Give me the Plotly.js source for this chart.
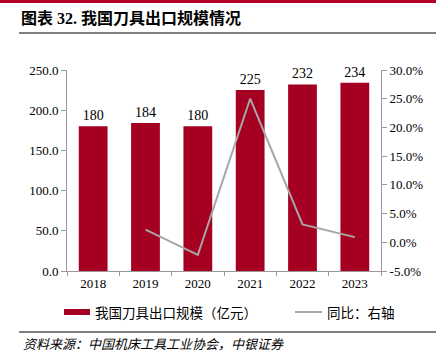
<!DOCTYPE html>
<html>
<head>
<meta charset="utf-8">
<script src="https://cdn.plot.ly/plotly-3.0.1.min.js"></script>
<style>html,body{margin:0;padding:0;background:#fff;}#chart{width:436px;height:358px;}</style>
</head>
<body>
<div id="chart"></div>
<script>
const years = ['2018', '2019', '2020', '2021', '2022', '2023'];
const exportScale = [180, 184, 180, 225, 232, 234];
const yoyYears = ['2019', '2020', '2021', '2022', '2023'];
const yoyPct = [2.2, -2.2, 25.0, 3.1, 0.9];
const leftTicks = [0, 50, 100, 150, 200, 250];
const rightTicks = [-5, 0, 5, 10, 15, 20, 25, 30];

const W = 436, H = 358, L = 67, R = 55, T = 70, B = 87;
const pw = W - L - R, ph = H - T - B;
const px = x => (x - L) / pw;
const py = y => (H - B - y) / ph;

const serif = '"Liberation Serif", "Times New Roman", serif';
const cjk = '"Noto Sans CJK SC", sans-serif';
const mixed = '"Liberation Serif", "Noto Sans CJK SC", serif';

const traces = [
  {
    type: 'bar', x: years, y: exportScale, name: '我国刀具出口规模（亿元）',
    marker: {color: '#A50021'}, width: 0.55,
    text: exportScale.map(String), textposition: 'outside', cliponaxis: false,
    textfont: {family: serif, size: 14, color: '#000'},
    hoverinfo: 'skip', showlegend: false
  },
  {
    type: 'scatter', mode: 'lines', x: yoyYears, y: yoyPct, yaxis: 'y2', name: '同比：右轴',
    line: {color: '#A6A6A6', width: 2}, showlegend: false, hoverinfo: 'skip'
  }
];

const layout = {
  width: W, height: H, margin: {l: L, r: R, t: T, b: B},
  paper_bgcolor: '#fff', plot_bgcolor: '#fff',
  bargap: 0.45,
  title: {
    text: '<b>图表 32. 我国刀具出口规模情况</b>',
    font: {family: mixed, size: 16, color: '#000'},
    xref: 'container', yref: 'container', x: 21 / W, xanchor: 'left',
    y: 1 - 18 / H, yanchor: 'middle'
  },
  xaxis: {
    type: 'category', tickson: 'boundaries', ticks: 'outside', ticklen: 4,
    tickcolor: '#999', showline: true, linecolor: '#999', linewidth: 1,
    tickfont: {family: serif, size: 13, color: '#000'}, showgrid: false, zeroline: false,
    fixedrange: true
  },
  yaxis: {
    range: [0, 250], tickvals: leftTicks, ticktext: leftTicks.map(v => v.toFixed(1)),
    ticks: 'outside', ticklen: 5, tickcolor: '#999', showline: true, linecolor: '#999',
    tickfont: {family: serif, size: 13, color: '#000'}, showgrid: false, zeroline: false
  },
  yaxis2: {
    overlaying: 'y', side: 'right', range: [-5, 30], tickvals: rightTicks,
    ticktext: rightTicks.map(v => v.toFixed(1) + '%'),
    ticks: 'outside', ticklen: 5, tickcolor: '#999', showline: true, linecolor: '#999',
    tickfont: {family: serif, size: 13, color: '#000'}, showgrid: false, zeroline: false
  },
  shapes: [
    {type: 'rect', xref: 'paper', yref: 'paper', x0: px(0), x1: px(W), y0: py(0), y1: py(3),
     fillcolor: '#B5002A', line: {width: 0}},
    {type: 'line', xref: 'paper', yref: 'paper', x0: px(19), x1: px(W), y0: py(33), y1: py(33),
     line: {color: '#555', width: 1.5}},
    {type: 'line', xref: 'paper', yref: 'paper', x0: px(19), x1: px(W), y0: py(332), y1: py(332),
     line: {color: '#555', width: 1.5}},
    {type: 'rect', xref: 'paper', yref: 'paper', x0: px(64), x1: px(90), y0: py(309), y1: py(315),
     fillcolor: '#A50021', line: {width: 0}},
    {type: 'line', xref: 'paper', yref: 'paper', x0: px(295), x1: px(322), y0: py(312), y1: py(312),
     line: {color: '#A6A6A6', width: 2}}
  ],
  annotations: [
    {xref: 'paper', yref: 'paper', x: px(93), y: py(312), xanchor: 'left', yanchor: 'middle',
     text: traces[0].name, showarrow: false, font: {family: cjk, size: 13.5, color: '#000'}},
    {xref: 'paper', yref: 'paper', x: px(325), y: py(312), xanchor: 'left', yanchor: 'middle',
     text: traces[1].name, showarrow: false, font: {family: cjk, size: 13.5, color: '#000'}},
    {xref: 'paper', yref: 'paper', x: px(21), y: py(343), xanchor: 'left', yanchor: 'middle',
     text: '<i>资料来源：中国机床工具工业协会，中银证券</i>', showarrow: false,
     font: {family: cjk, size: 13, color: '#000'}}
  ]
};

Plotly.newPlot('chart', traces, layout, {staticPlot: true, displayModeBar: false});
</script>
</body>
</html>
